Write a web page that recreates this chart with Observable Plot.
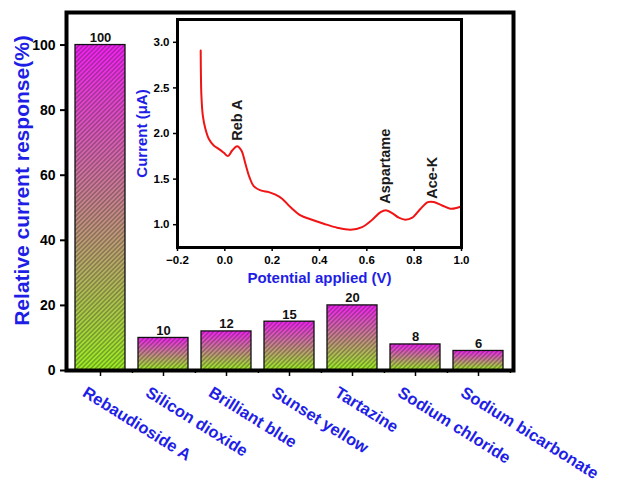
<!DOCTYPE html>
<html>
<head>
<meta charset="utf-8">
<script src="https://cdn.jsdelivr.net/npm/d3@7"></script>
<script src="https://cdn.jsdelivr.net/npm/@observablehq/plot@0.6"></script>
<style>
  html, body { margin: 0; padding: 0; background: white; }
  #chart { position: relative; width: 619px; height: 484px; }
</style>
</head>
<body>
<div id="chart"></div>
<script>
// ---- data ----
const categories = ["Rebaudioside A", "Silicon dioxide", "Brilliant blue", "Sunset yellow", "Tartazine", "Sodium chloride", "Sodium bicarbonate"];
const responses = [100, 10, 12, 15, 20, 8, 6];
const yTicks = [0, 20, 40, 60, 80, 100];

const potential = [-0.102, -0.101, -0.099, -0.093, -0.082, -0.068, -0.047, -0.026, -0.004, 0.013, 0.031, 0.052, 0.070, 0.087, 0.104, 0.122, 0.151, 0.186, 0.214, 0.242, 0.277, 0.320, 0.362, 0.418, 0.475, 0.531, 0.580, 0.623, 0.658, 0.683, 0.707, 0.735, 0.763, 0.792, 0.827, 0.858, 0.883, 0.918, 0.953, 0.982, 0.998];
const current   = [2.909, 2.635, 2.416, 2.197, 2.050, 1.942, 1.869, 1.832, 1.788, 1.752, 1.814, 1.861, 1.814, 1.668, 1.521, 1.423, 1.376, 1.357, 1.329, 1.285, 1.193, 1.102, 1.060, 1.011, 0.967, 0.945, 0.974, 1.055, 1.138, 1.157, 1.127, 1.077, 1.055, 1.077, 1.175, 1.248, 1.248, 1.211, 1.175, 1.186, 1.200];
const insetXTicks = [-0.2, 0.0, 0.2, 0.4, 0.6, 0.8, 1.0];
const insetYTicks = [1.0, 1.5, 2.0, 2.5, 3.0];
const peakNames = ["Reb A", "Aspartame", "Ace-K"];
const peakX = [0.052, 0.677, 0.876];
const peakY = [1.92, 1.23, 1.285];

// ---- build tables ----
const bars = categories.map((c, i) => ({name: c, value: responses[i]}));
const cv = potential.map((p, i) => ({p, c: current[i]}));
const peaks = peakNames.map((n, i) => ({n, x: peakX[i], y: peakY[i]}));

const W = 619, H = 484;
const mL = 66, mR = 106, mT = 12, mB = 114;
const step = (W - mL - mR) / categories.length;
const blue = "#1e1ee6";
const font = "'Liberation Sans', Arial, Helvetica, sans-serif";

const main = Plot.plot({
  width: W, height: H,
  marginLeft: mL, marginRight: mR, marginTop: mT, marginBottom: mB,
  style: {fontFamily: font, background: "white", overflow: "visible"},
  x: {type: "band", domain: categories, paddingInner: 0.2, paddingOuter: 0.1},
  y: {domain: [0, 110]},
  marks: [
    Plot.barY(bars, {x: "name", y: "value", fill: "url(#barGrad)"}),
    Plot.barY(bars, {x: "name", y: "value", fill: "url(#hatch)", stroke: "#111", strokeWidth: 1.3}),
    Plot.text(bars, {x: "name", y: "value", text: d => String(d.value), dy: -3, lineAnchor: "bottom", fontSize: 13, fontWeight: "bold", fill: "#111"}),
    Plot.axisY({ticks: yTicks, tickSize: 6, tickPadding: 5, strokeWidth: 2, fontSize: 14, fontWeight: "bold", label: null}),
    Plot.axisX({tickSize: 6, tickFormat: () => "", strokeWidth: 1.5, label: null}),
    Plot.axisX({tickSize: 3, tickFormat: () => "", dx: step / 2, strokeWidth: 1.5, label: null}),
    Plot.frame({stroke: "black", strokeWidth: 4}),
    Plot.text(bars, {x: "name", frameAnchor: "bottom", text: "name", rotate: 32, textAnchor: "start", lineAnchor: "bottom", dx: -19, dy: 25, fontSize: 16.5, fontWeight: "bold", fill: blue}),
    Plot.text(["Relative current response(%)"], {text: d => d, frameAnchor: "left", textAnchor: "middle", lineAnchor: "middle", rotate: -90, dx: -44, dy: -11, fontSize: 21, fontWeight: "bold", fill: blue})
  ]
});

// defs: gradient + hatch
const svg = d3.select(main);
const defs = svg.insert("defs", ":first-child");
const grad = defs.append("linearGradient").attr("id", "barGrad")
  .attr("x1", 0).attr("y1", 0).attr("x2", 0).attr("y2", 1);
grad.append("stop").attr("offset", "0%").attr("stop-color", "#f51ef5");
grad.append("stop").attr("offset", "100%").attr("stop-color", "#9cf020");
const pat = defs.append("pattern").attr("id", "hatch")
  .attr("patternUnits", "userSpaceOnUse").attr("width", 3.2).attr("height", 3.2)
  .attr("patternTransform", "rotate(45)");
pat.append("line").attr("x1", 1.6).attr("y1", 0).attr("x2", 1.6).attr("y2", 3.2)
  .attr("stroke", "#222").attr("stroke-width", 0.9).attr("stroke-opacity", 0.6);

const inset = Plot.plot({
  width: W, height: H,
  marginLeft: 177, marginRight: 158, marginTop: 19, marginBottom: 237,
  style: {fontFamily: font, background: "transparent", overflow: "visible"},
  x: {domain: [-0.2, 1.0]},
  y: {domain: [0.75, 3.25]},
  marks: [
    Plot.line(cv, {x: "p", y: "c", stroke: "#f01414", strokeWidth: 2, curve: "catmull-rom"}),
    Plot.text(peaks, {x: "x", y: "y", text: "n", rotate: -90, textAnchor: "start", fontSize: 14.5, fontWeight: "bold", fill: "#1a1a1a"}),
    Plot.axisX({ticks: insetXTicks, tickFormat: d3.format(".1f"), tickSize: 4, tickPadding: 4, fontSize: 11.5, fontWeight: "bold", strokeWidth: 1.5, label: null}),
    Plot.axisY({ticks: insetYTicks, tickFormat: d3.format(".1f"), tickSize: 4, tickPadding: 4, fontSize: 11.5, fontWeight: "bold", strokeWidth: 1.5, label: null}),
    Plot.frame({stroke: "black", strokeWidth: 3}),
    Plot.text(["Current (μA)"], {text: d => d, frameAnchor: "left", textAnchor: "middle", lineAnchor: "middle", rotate: -90, dx: -35, fontSize: 15, fontWeight: "bold", fill: blue}),
    Plot.text(["Potential applied (V)"], {text: d => d, frameAnchor: "bottom", textAnchor: "middle", lineAnchor: "middle", dy: 31, fontSize: 15, fontWeight: "bold", fill: blue})
  ]
});
inset.style.position = "absolute";
inset.style.left = "0px";
inset.style.top = "0px";
inset.style.pointerEvents = "none";

const chart = document.getElementById("chart");
chart.appendChild(main);
chart.appendChild(inset);
</script>
</body>
</html>
